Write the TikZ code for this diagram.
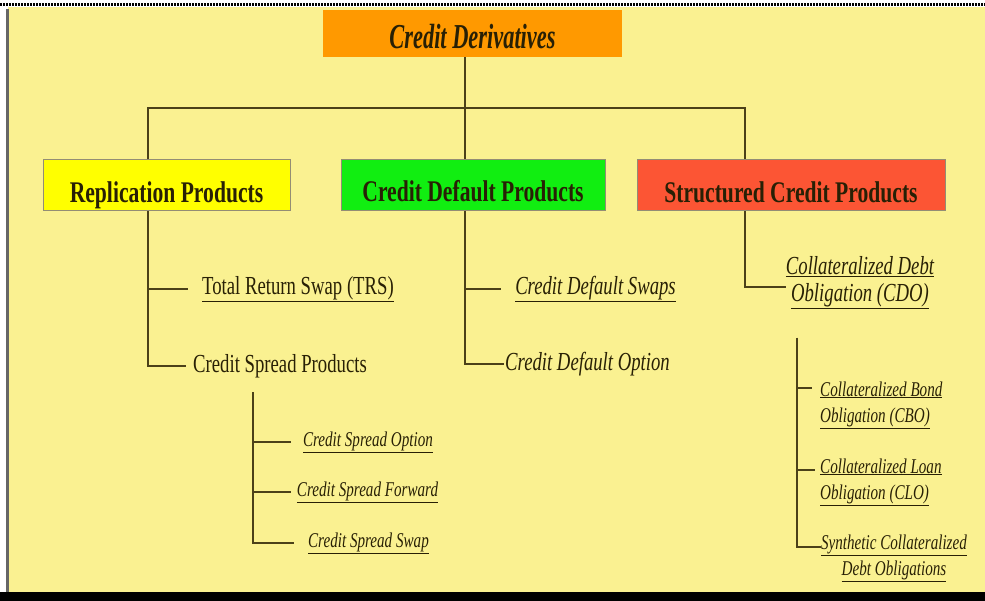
\documentclass[tikz,border=0pt]{standalone}
\usepackage{fontspec}
\setmainfont{Liberation Serif}
\newfontfamily\cdfont[FakeStretch=0.72]{Liberation Serif}
\newfontfamily\cdtitlefont[FakeStretch=0.64]{Liberation Serif}
\definecolor{paper}{RGB}{250,241,145}
\definecolor{cdorange}{RGB}{255,153,0}
\definecolor{cdyellow}{RGB}{255,255,0}
\definecolor{cdgreen}{RGB}{17,238,17}
\definecolor{cdred}{RGB}{252,85,52}
\definecolor{ink}{RGB}{40,32,5}
\definecolor{wirecol}{RGB}{75,65,25}
\tikzset{
  topbox/.style={draw=wirecol!60, line width=1pt, minimum height=51pt, inner sep=0pt, text=ink,
    text height=34pt, text depth=0pt, font=\cdfont\fontsize{30}{32}\selectfont\bfseries},
  leaf/.style={inner sep=0pt, text=ink, font=\cdfont\fontsize{26}{27}\selectfont},
  leafit/.style={leaf, font=\cdfont\fontsize{26}{27}\selectfont\itshape},
  smallleaf/.style={inner sep=0pt, text=ink, font=\cdfont\fontsize{21}{26}\selectfont\itshape},
  branch/.style={draw=wirecol, line width=1.8pt}
}
\begin{document}
\begin{tikzpicture}[x=1pt,y=-1pt]
\useasboundingbox (0,0) rectangle (985,601);
\fill[white] (0,0) rectangle (985,601);
\fill[paper] (8,7) rectangle (985,592);
\fill[black] (0,592) rectangle (985,601);
\draw[black, line width=3pt, dash pattern=on 2pt off 1pt] (0,5) -- (985,5);
\draw[black!60, line width=3pt] (7,9) -- (7,592);

% top level
\node[topbox, draw=none, fill=cdorange, minimum width=299pt, minimum height=47pt, text height=31pt,
  font=\cdtitlefont\fontsize{35}{38}\selectfont\bfseries\itshape] (cd) at (472.5,33.5) {Credit Derivatives};
\node[topbox, fill=cdyellow, minimum width=247pt] (rep) at (166.5,185.5) {Replication Products};
\node[topbox, fill=cdgreen, minimum width=264pt] (cdp) at (473,185) {Credit Default Products};
\node[topbox, fill=cdred, minimum width=308pt] (scp) at (791,185.5) {Structured Credit Products};

% second level
\node[leaf] (trs) at (298,289) {\underline{Total Return Swap (TRS)}};
\node[leaf] (csp) at (280,366) {Credit Spread Products};
\node[leafit] (cds) at (595.5,289) {\underline{Credit Default Swaps}};
\node[leafit] (cdopt) at (587.5,364) {Credit Default Option};
\node[leafit, align=center] (cdo) at (860,283) {\underline{Collateralized Debt}\\\underline{Obligation (CDO)}};

% third level
\node[smallleaf] (cso) at (368,442) {\underline{Credit Spread Option}};
\node[smallleaf] (csf) at (367.5,492) {\underline{Credit Spread Forward}};
\node[smallleaf] (css) at (368.5,543) {\underline{Credit Spread Swap}};
\node[smallleaf, align=left, anchor=west] (cbo) at (820,405) {\underline{Collateralized Bond}\\\underline{Obligation (CBO)}};
\node[smallleaf, align=left, anchor=west] (clo) at (820,482) {\underline{Collateralized Loan}\\\underline{Obligation (CLO)}};
\node[smallleaf, align=center] (syn) at (894,558) {\underline{Synthetic Collateralized}\\\underline{Debt Obligations}};

\coordinate (hub) at (465,108);
\coordinate (repx) at (148,0);
\coordinate (cdpx) at (465,0);
\coordinate (scpx) at (745,0);
\coordinate (cstop) at (253,392);
\coordinate (cdotop) at (797,338);

\draw[branch] (cd.south -| hub) -- (hub);
\draw[branch] (rep.north -| repx) |- (hub) -| (scp.north -| scpx);
\draw[branch] (hub) -- (cdp.north -| hub);

\draw[branch] (rep.south -| repx) |- ([xshift=-14pt]trs.west);
\draw[branch] (rep.south -| repx) |- ([xshift=-7pt]csp.west);
\draw[branch] (cdp.south -| cdpx) |- ([xshift=-14pt]cds.west);
\draw[branch] (cdp.south -| cdpx) |- ([xshift=-1pt]cdopt.west);
\draw[branch] (scp.south -| scpx) |- ([yshift=-4pt]cdo.west);

\draw[branch] (cstop) |- ([xshift=-12pt]cso.west);
\draw[branch] (cstop) |- ([xshift=-6pt]csf.west);
\draw[branch] (cstop) |- ([xshift=-14pt]css.west);
\draw[branch] (cdotop) |- ([xshift=-8pt, yshift=17pt]cbo.west);
\draw[branch] (cdotop) |- ([xshift=-5pt, yshift=12pt]clo.west);
\draw[branch] (cdotop) |- ([yshift=11pt]syn.west);
\end{tikzpicture}
\end{document}
